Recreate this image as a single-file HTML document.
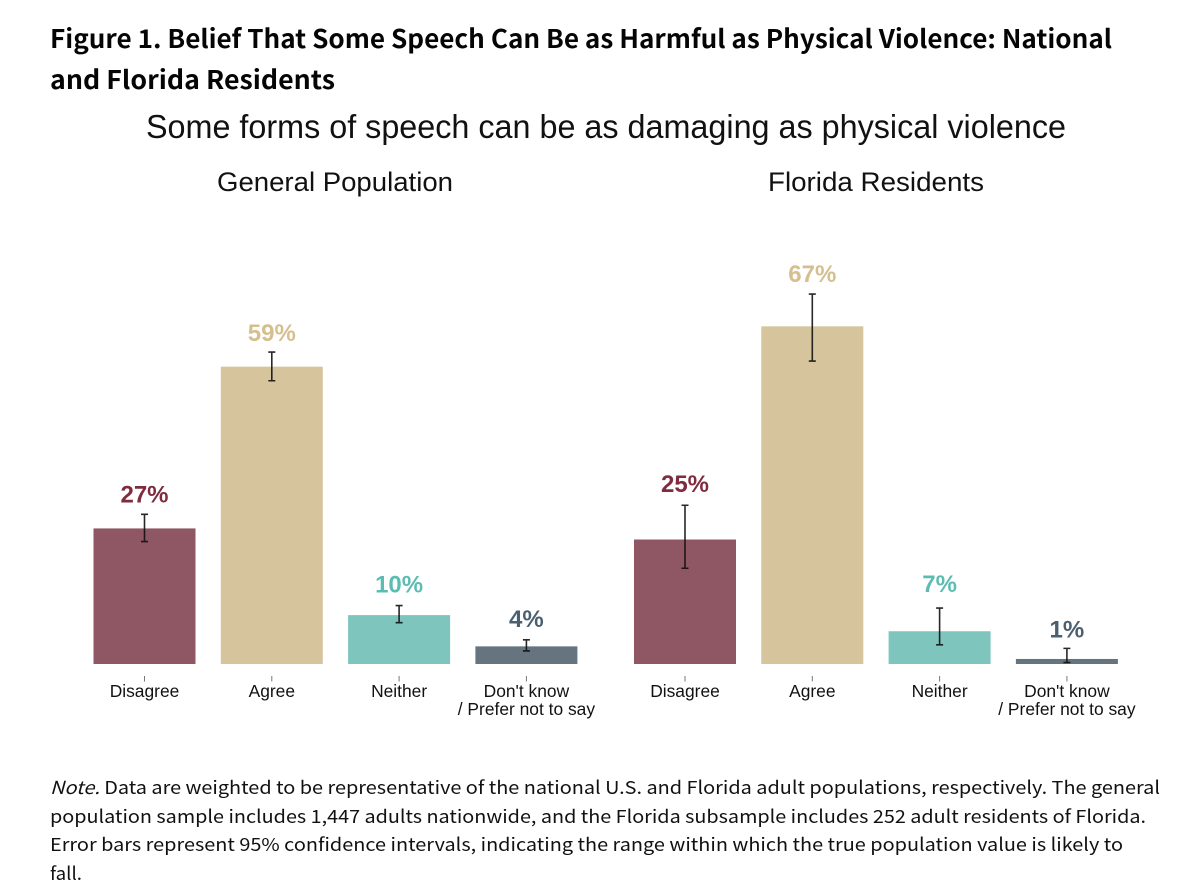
<!DOCTYPE html>
<html lang="en">
<head>
<meta charset="utf-8">
<title>Figure 1</title>
<style>
html,body{margin:0;padding:0;background:#fff;width:1200px;height:896px;overflow:hidden}
svg{display:block}
.h{font-family:"Noto Sans CJK SC","DejaVu Sans",sans-serif;font-weight:700;font-size:25.5px;fill:#050505}
.n{font-family:"Noto Sans CJK SC","DejaVu Sans",sans-serif;font-size:18px;fill:#111}
.t{font-family:"Liberation Sans",sans-serif;fill:#111}
</style>
</head>
<body>
<svg id="chart" xmlns="http://www.w3.org/2000/svg" width="1200" height="896" viewBox="0 0 1200 896">
<rect width="1200" height="896" fill="#fff"/>
<text class="h" x="50" y="48" textLength="1062" lengthAdjust="spacingAndGlyphs">Figure 1. Belief That Some Speech Can Be as Harmful as Physical Violence: National</text>
<text class="h" x="50" y="89" textLength="285" lengthAdjust="spacingAndGlyphs">and Florida Residents</text>
<text class="t" x="146" y="138" font-size="33" textLength="920" lengthAdjust="spacingAndGlyphs">Some forms of speech can be as damaging as physical violence</text>
<text class="t" x="217" y="191" font-size="27" textLength="236" lengthAdjust="spacingAndGlyphs">General Population</text>
<text class="t" x="768" y="191" font-size="27" textLength="216" lengthAdjust="spacingAndGlyphs">Florida Residents</text>
<g id="marks"></g>
<text class="n" x="50" y="794" textLength="1110" lengthAdjust="spacingAndGlyphs"><tspan font-style="italic">Note.</tspan> Data are weighted to be representative of the national U.S. and Florida adult populations, respectively. The general</text>
<text class="n" x="50" y="823" textLength="1096" lengthAdjust="spacingAndGlyphs">population sample includes 1,447 adults nationwide, and the Florida subsample includes 252 adult residents of Florida.</text>
<text class="n" x="50" y="851" textLength="1073" lengthAdjust="spacingAndGlyphs">Error bars represent 95% confidence intervals, indicating the range within which the true population value is likely to</text>
<text class="n" x="50" y="880" textLength="32" lengthAdjust="spacingAndGlyphs">fall.</text>
</svg>
<script>
const categories = ["Disagree", "Agree", "Neither", "Don't know|/ Prefer not to say"];
const generalLabels = ["27%", "59%", "10%", "4%"];
const floridaLabels = ["25%", "67%", "7%", "1%"];
const generalValues = [26.9, 59, 9.7, 3.5];
const floridaValues = [24.7, 67, 6.5, 1];
const generalLow = [24.3, 56.2, 8.2, 2.6];
const generalHigh = [29.7, 61.9, 11.6, 4.8];
const floridaLow = [19, 60.1, 3.8, 0.3];
const floridaHigh = [31.5, 73.4, 11.1, 3.1];

const barColors = ["#8f5763", "#d6c49c", "#7dc5bd", "#65747f"];
const labelColors = ["#7f2c40", "#d6bf8f", "#5dbcb2", "#4a5f70"];
const NS = "http://www.w3.org/2000/svg";
const root = document.getElementById("marks");
const BASE_Y = 664;
const yScale = v => BASE_Y - v * 5.04;
const xGeneral = i => 144.5 + 127.3 * i;
const xFlorida = i => 685 + 127.3 * i;
const BAR_W = 102;
const labelGap = (panel, i) => (panel === "florida" ? [13, 12, 16, 11] : [12, 11, 13, 13])[i];

function make(tag, attrs) {
  const el = document.createElementNS(NS, tag);
  for (const k in attrs) el.setAttribute(k, attrs[k]);
  return el;
}

function drawPanel(xScale, values, low, high, labels, panel) {
  categories.forEach((cat, i) => {
    const cx = xScale(i);
    const top = yScale(values[i]);

    const bar = make("rect", {x: cx - BAR_W / 2, y: top, width: BAR_W, height: BASE_Y - top, fill: barColors[i]});
    
    
    root.appendChild(bar);

    const yHi = yScale(high[i]);
    const yLo = yScale(low[i]);
    const err = make("path", {
      d: `M${cx} ${yHi}V${yLo}M${cx - 3.5} ${yHi}H${cx + 3.5}M${cx - 3.5} ${yLo}H${cx + 3.5}`,
      stroke: "#111", "stroke-width": 1.6, fill: "none", "stroke-opacity": 0.9
    });
    
    
    root.appendChild(err);

    const val = make("text", {
      x: cx, y: yHi - labelGap(panel, i), "text-anchor": "middle", fill: labelColors[i],
      "font-family": '"Liberation Sans", sans-serif', "font-weight": 700, "font-size": 24
    });
    
    
    val.textContent = labels[i];
    root.appendChild(val);

    const tick = make("line", {x1: cx, x2: cx, y1: 676, y2: 681.5, stroke: "#777", "stroke-width": 1});
    
    
    root.appendChild(tick);

    cat.split("|").forEach((line, j) => {
      const t = make("text", {
        x: cx, y: 697 + j * 18, "text-anchor": "middle", fill: "#111",
        "font-family": '"Liberation Sans", sans-serif', "font-size": 17.4
      });
      
      
      t.textContent = line;
      root.appendChild(t);
    });
  });
}

drawPanel(xGeneral, generalValues, generalLow, generalHigh, generalLabels, "general");
drawPanel(xFlorida, floridaValues, floridaLow, floridaHigh, floridaLabels, "florida");
</script>
</body>
</html>
